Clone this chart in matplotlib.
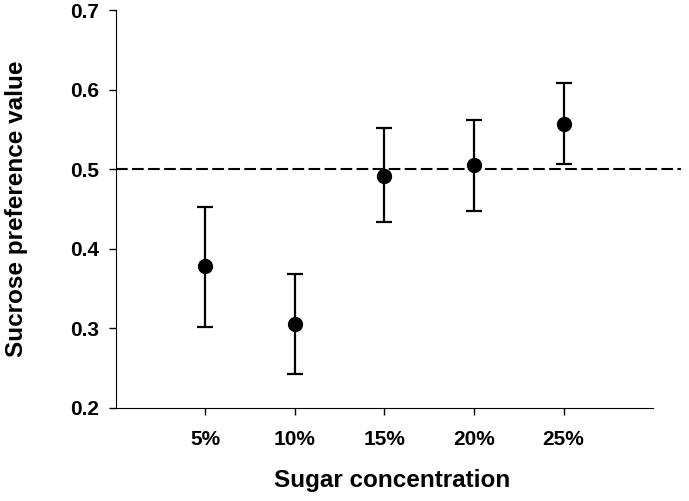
import matplotlib
matplotlib.use("Agg")
import matplotlib.pyplot as plt

plt.rcParams['font.family'] = ['Liberation Sans', 'DejaVu Sans']
plt.rcParams['font.weight'] = 'bold'

# values
concentrations = ['5%', '10%', '15%', '20%', '25%']
preference = [0.378, 0.305, 0.492, 0.505, 0.557]
err_low = [0.301, 0.243, 0.433, 0.447, 0.506]
err_high = [0.453, 0.368, 0.552, 0.562, 0.608]

x = list(range(1, len(concentrations) + 1))
yerr = [[p - lo for p, lo in zip(preference, err_low)],
        [hi - p for p, hi in zip(preference, err_high)]]

fig = plt.figure(figsize=(6.89, 5.01), dpi=100)
ax = fig.add_axes([0.168, 0.186, 0.780, 0.794])

ax.axhline(0.5, xmin=0, xmax=1.052, color='black', linestyle=(0, (5.6, 2.1)),
           linewidth=1.5, clip_on=False, zorder=1)
ax.errorbar(x, preference, yerr=yerr, fmt='o', color='black', markersize=10,
            elinewidth=1.6, capsize=6, capthick=1.6, zorder=3)

ax.set_xlim(0, 6)
ax.set_ylim(0.2, 0.7)
ax.set_xticks(x)
ax.set_xticklabels(concentrations)
ax.set_yticks([0.2, 0.3, 0.4, 0.5, 0.6, 0.7])
ax.set_yticklabels(['0.2', '0.3', '0.4', '0.5', '0.6', '0.7'])
ax.tick_params(labelsize=15, length=5, width=1, pad=7)
ax.tick_params(axis='x', pad=11)

for side in ['top', 'right']:
    ax.spines[side].set_visible(False)

ax.set_xlabel('Sugar concentration', fontsize=17.5, fontweight='bold', labelpad=15)
ax.xaxis.set_label_coords(0.514, -0.155)
ax.set_ylabel('Sucrose preference value', fontsize=17.5, fontweight='bold', labelpad=30)

fig.savefig('out.png', dpi=100)
